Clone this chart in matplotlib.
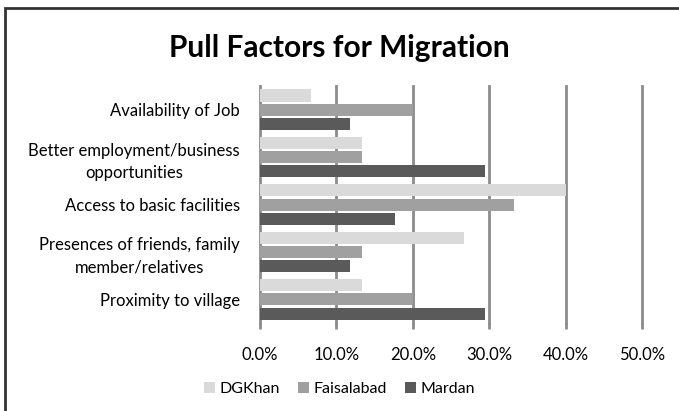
import matplotlib.pyplot as plt
import matplotlib.patches as patches
import numpy as np
from matplotlib.ticker import PercentFormatter

# data
categories = ["Availability of Job",
              "Better employment/business\nopportunities",
              "Access to basic facilities",
              "Presences of friends, family\nmember/relatives",
              "Proximity to village"]
series_names = ["DGKhan", "Faisalabad", "Mardan"]
dgkhan = [6.7, 13.3, 40.0, 26.7, 13.3]
faisalabad = [20.0, 13.3, 33.3, 13.3, 20.0]
mardan = [11.8, 29.4, 17.6, 11.8, 29.4]
x_ticks = [0, 10, 20, 30, 40, 50]

colors = ["#d9dad9", "#9fa09f", "#5a5a5a"]

plt.rcParams['font.family'] = ['Lato', 'DejaVu Sans']

fig = plt.figure(figsize=(6.79, 4.11), dpi=100)
ax = fig.add_axes([0.383, 0.214, 0.5626, 0.5766])

# outer chart border (cut off at right and bottom like the source)
fig.patches.append(patches.Rectangle((5 / 679, -0.05), 1.1, 1.03,
                                     transform=fig.transFigure, fill=False,
                                     edgecolor="#333333", linewidth=2))

y = np.arange(len(categories))
pitch = 0.3
h = 0.255
for i, (vals, name) in enumerate(zip([dgkhan, faisalabad, mardan], series_names)):
    ax.barh(y + (i - 1) * pitch, vals, height=h, color=colors[i], label=name, zorder=1)

ax.set_ylim(len(categories) - 0.5, -0.5)
ax.set_xlim(0, 50)
ax.set_xticks(x_ticks)
ax.xaxis.set_major_formatter(PercentFormatter(decimals=1))
ax.set_yticks(y)
ax.set_yticklabels(categories, multialignment='center', fontsize=12, linespacing=1.45)
ax.tick_params(axis='y', length=0, pad=14.5)
ax.tick_params(axis='x', length=4, width=2, color="#8c8c8c", labelsize=12, pad=13)

ax.grid(axis='x', color="#8c8c8c", linewidth=2, zorder=0)
for gl in ax.get_xgridlines():
    gl.set_clip_on(False)
ax.set_axisbelow(True)
for s in ax.spines.values():
    s.set_visible(False)

fig.text(0.5, 0.882, "Pull Factors for Migration", ha='center', va='center',
         fontsize=21.5, fontweight='bold')

fig.legend(loc='center', bbox_to_anchor=(0.5, 0.053), ncol=3, frameon=False,
           fontsize=11.5, handlelength=0.7, handleheight=0.7, handletextpad=0.3,
           columnspacing=1.1)

plt.savefig("out.png", dpi=100)
